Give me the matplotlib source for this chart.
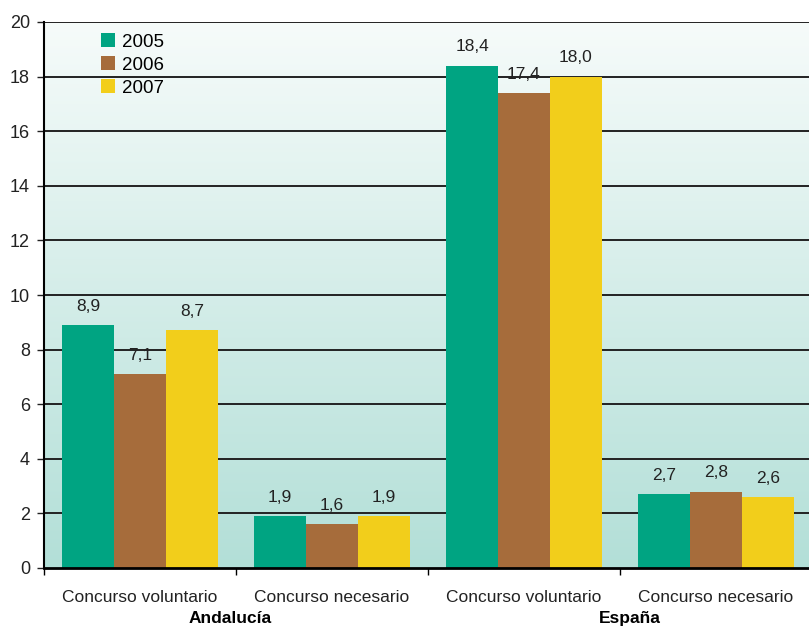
import matplotlib.pyplot as plt
import numpy as np

plt.rcParams['font.family'] = ['Liberation Sans', 'DejaVu Sans']

categories = ["Concurso voluntario", "Concurso necesario",
              "Concurso voluntario", "Concurso necesario"]
groups = ["Andalucía", "España"]
years = ["2005", "2006", "2007"]
v2005 = [8.9, 1.9, 18.4, 2.7]
v2006 = [7.1, 1.6, 17.4, 2.8]
v2007 = [8.7, 1.9, 18.0, 2.6]
colors = ['#00A482', '#A66C3B', '#F2CE1B']

fig = plt.figure(figsize=(8.09, 6.27), dpi=100)
ax = fig.add_axes([44/809, 59/627, 765/809, 546/627])

x = np.arange(len(categories))
w = 0.27
xmin, xmax = -0.5, 3.485

# background gradient (light at top, teal at bottom)
grad = np.linspace(0, 1, 256).reshape(-1, 1)
top = np.array([0.965, 0.985, 0.98])
bot = np.array([0.70, 0.875, 0.845])
img = top + (bot - top) * grad[..., None]
ax.imshow(img, extent=[xmin, xmax, 0, 20], aspect='auto', zorder=0,
          origin='upper')
ax.set_xlim(xmin, xmax)
ax.set_ylim(0, 20)

for y in range(2, 21, 2):
    ax.axhline(y, color='#222222', lw=1.4, zorder=1)

for i, (vals, c, lab) in enumerate(zip([v2005, v2006, v2007], colors, years)):
    pos = x + (i - 1) * w
    ax.bar(pos, vals, width=w, color=c, label=lab, zorder=2)
    for p, v in zip(pos, vals):
        ax.text(p, v + 0.42, f"{v:.1f}".replace('.', ','), ha='center',
                va='bottom', fontsize=12.5, color='#222222', zorder=3)

ax.set_yticks(range(0, 21, 2))
ax.tick_params(axis='y', length=5, width=1, labelsize=13, pad=5,
               colors='#222222')
ax.set_xticks([-0.5, 0.5, 1.5, 2.5])
ax.set_xticklabels([])
ax.set_xticks(x, minor=True)
ax.set_xticklabels(categories, minor=True)
ax.tick_params(axis='x', which='major', length=5, width=1, direction='out')
ax.tick_params(axis='x', which='minor', length=0, pad=16, labelsize=12.5,
               colors='#222222')

for s in ['top', 'right']:
    ax.spines[s].set_visible(False)
ax.spines['left'].set_linewidth(1.5)
ax.spines['bottom'].set_linewidth(2)

ax.text(0.47, -0.093, groups[0], transform=ax.get_xaxis_transform(),
        ha='center', va='center', fontsize=12.5, fontweight='bold')
ax.text(2.55, -0.093, groups[1], transform=ax.get_xaxis_transform(),
        ha='center', va='center', fontsize=12.5, fontweight='bold')

ax.legend(loc='upper left', bbox_to_anchor=(0.053, 1.01), frameon=False,
          handlelength=0.75, handleheight=0.75, handletextpad=0.35,
          labelspacing=0.3, fontsize=13.5)

fig.savefig('out.png', dpi=100)
